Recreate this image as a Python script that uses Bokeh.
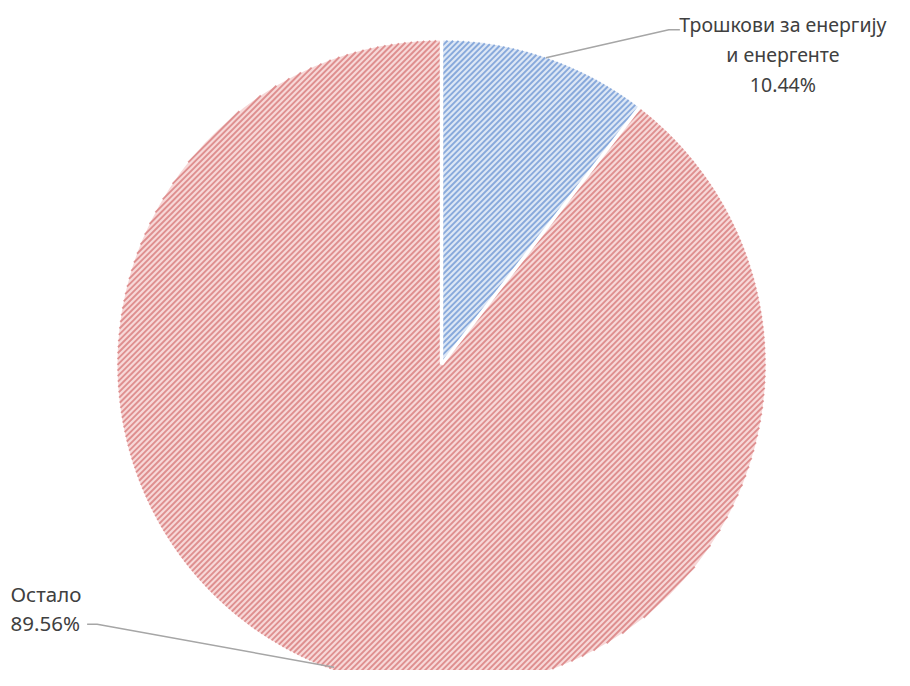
import math
from bokeh.plotting import figure
from bokeh.models import Range1d, ColumnDataSource
from bokeh.core.properties import value
from bokeh.embed import file_html
from bokeh.resources import INLINE

# ---- data ----
categories = ["Трошкови за енергију\nи енергенте", "Остало"]
shares = [10.44, 89.56]
pct_labels = ["10.44%", "89.56%"]
fill_colors = ["#dde7f5", "#f7d8d8"]
hatch_colors = ["#6f97d4", "#d77a7a"]

W, H = 894, 670
p = figure(width=W, height=H, output_backend="svg", toolbar_location=None,
           x_range=Range1d(0, W), y_range=Range1d(0, H),
           x_axis_location=None, y_axis_location=None, min_border=0)
p.outline_line_color = None
p.grid.visible = False
p.background_fill_color = "white"

cx, cy, R = 441, 306, 324

# angles (clockwise from 12 o'clock)
starts, ends, mids = [], [], []
acc = 0.0
for s in shares:
    a0 = math.pi / 2 - 2 * math.pi * acc / 100
    a1 = math.pi / 2 - 2 * math.pi * (acc + s) / 100
    starts.append(a0)
    ends.append(a1)
    mids.append((a0 + a1) / 2)
    acc += s

src = ColumnDataSource(dict(start=starts, end=ends, fill=fill_colors))
p.wedge(x=cx, y=cy, radius=R, start_angle="start", end_angle="end", direction="clock",
        source=src, fill_color="fill", line_color=None)

# --- 45 degree hatching, clipped to each slice ---
def cross(a, b):
    return a[0] * b[1] - a[1] * b[0]

d = (1 / math.sqrt(2), 1 / math.sqrt(2))
n = (1 / math.sqrt(2), -1 / math.sqrt(2))
u0 = (math.cos(starts[0]), math.sin(starts[0]))   # ccw bound of slice 1
u1 = (math.cos(ends[0]), math.sin(ends[0]))       # cw bound of slice 1
spacing = 4.05
segs = [([], []), ([], [])]
k = -R + spacing / 2
while k < R:
    h = math.sqrt(R * R - k * k)
    q = (k * n[0], k * n[1])
    lo, hi = -h, h
    for u, sign in ((u1, 1), (u0, -1)):
        a = sign * cross(u, q)
        b = sign * cross(u, d)
        if abs(b) < 1e-12:
            if a < 0:
                lo, hi = 1, 0
        elif b > 0:
            lo = max(lo, -a / b)
        else:
            hi = min(hi, -a / b)
    pieces_other = []
    if lo < hi:
        segs[0][0].append([cx + q[0] + lo * d[0], cx + q[0] + hi * d[0]])
        segs[0][1].append([cy + q[1] + lo * d[1], cy + q[1] + hi * d[1]])
        if lo > -h:
            pieces_other.append((-h, lo))
        if hi < h:
            pieces_other.append((hi, h))
    else:
        pieces_other.append((-h, h))
    for t0, t1 in pieces_other:
        segs[1][0].append([cx + q[0] + t0 * d[0], cx + q[0] + t1 * d[0]])
        segs[1][1].append([cy + q[1] + t0 * d[1], cy + q[1] + t1 * d[1]])
    k += spacing

for i in range(2):
    p.multi_line(segs[i][0], segs[i][1], line_color=hatch_colors[i], line_width=1.9,
                 line_alpha=0.78)

# white separators between slices
for a in starts:
    p.line([cx, cx + (R + 2) * math.cos(a)], [cy, cy + (R + 2) * math.sin(a)],
           line_color="white", line_width=3.5)

font = value("Noto Sans")
tc = "#404040"
lc = "#a6a6a6"

# label 1 (upper right)
ax, ay = cx + R * math.cos(mids[0]), cy + R * math.sin(mids[0])
ex, ey = ax + 123, ay + 28
p.line([ax, ex, ex + 11], [ay, ey, ey], line_color=lc, line_width=1.5)
lines1 = categories[0].split("\n") + [pct_labels[0]]
tx = ex + 114
for i, t in enumerate(lines1):
    p.text(x=[tx], y=[ey + 5 - 30 * i], text=[t], text_font=font, text_font_size="19.5px",
           text_color=tc, text_align="center", text_baseline="alphabetic")

# label 2 (lower left)
ax2, ay2 = cx + R * math.cos(mids[1]), cy + R * math.sin(mids[1])
ex2, ey2 = ax2 - 240, ay2 + 47
p.line([ax2 - 3, ex2, ex2 - 10], [ay2 + 4, ey2, ey2], line_color=lc, line_width=1.5)
lines2 = [categories[1], pct_labels[1]]
for i, t in enumerate(lines2):
    p.text(x=[10], y=[ey2 + 29 - 29 * i + 1], text=[t], text_font=font, text_font_size="20.5px",
           text_color=tc, text_align="left", text_baseline="alphabetic")

open("out.html", "w").write(file_html(p, INLINE))
